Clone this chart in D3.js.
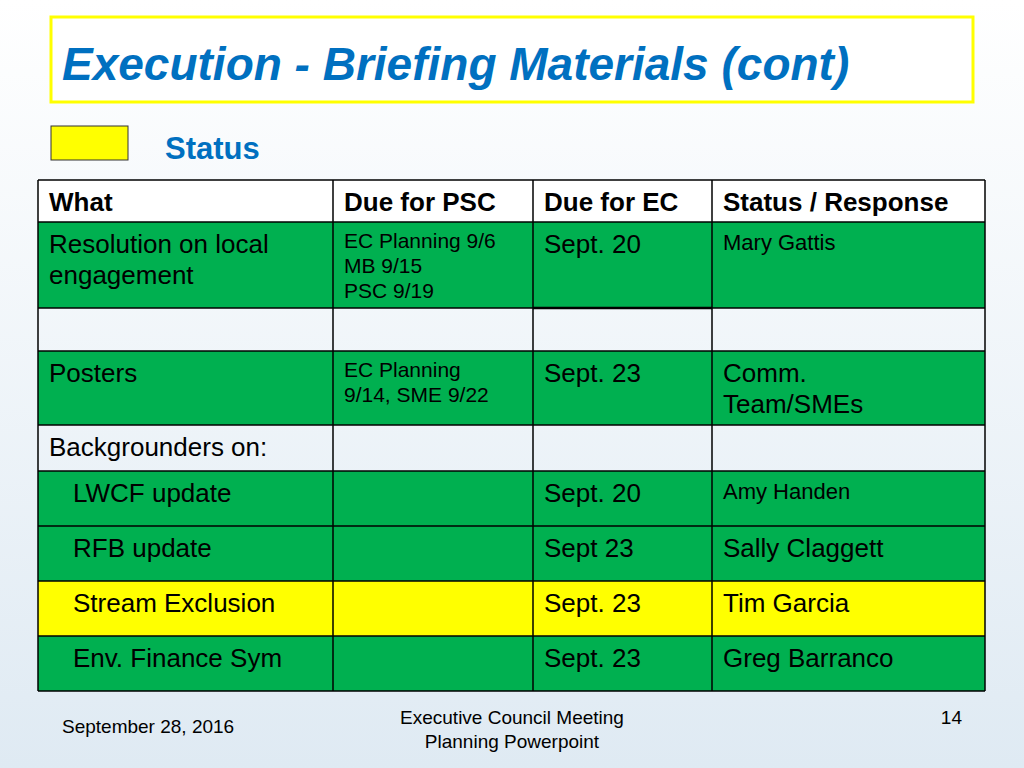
<!DOCTYPE html>
<html><head><meta charset="utf-8">
<script src="https://cdn.jsdelivr.net/npm/d3@7/dist/d3.min.js"></script>
<style>body{margin:0}</style></head>
<body><svg id="c" width="1024" height="768"></svg>
<script>
const headers = ["What","Due for PSC","Due for EC","Status / Response"];
const what = ["Resolution on local|engagement","","Posters","Backgrounders on:","LWCF update","RFB update","Stream Exclusion","Env. Finance Sym"];
const psc = ["EC Planning 9/6|MB 9/15|PSC 9/19","","EC Planning|9/14, SME 9/22","","","","",""];
const ec = ["Sept. 20","","Sept. 23","","Sept. 20","Sept 23","Sept. 23","Sept. 23"];
const status = ["Mary Gattis","","Comm.|Team/SMEs","","Amy Handen","Sally Claggett","Tim Garcia","Greg Barranco"];
const rowState = ["green","blank","green","blank","green","green","yellow","green"];
const indent = [0,0,0,0,1,1,1,1];
const smallStatus = [1,0,0,0,1,0,0,0];
const colEdges = [38,333,533,712,985];
const rowEdges = [180,222,308,351,425,471,526,581,636,691];

const svg = d3.select("#c");
const defs = svg.append("defs");
const g = defs.append("linearGradient").attr("id","bg").attr("x1",0).attr("y1",0).attr("x2",0).attr("y2",1);
g.append("stop").attr("offset","0").attr("stop-color","#ffffff");
g.append("stop").attr("offset","1").attr("stop-color","#dfeaf3");
svg.append("rect").attr("width",1024).attr("height",768).attr("fill","url(#bg)");

svg.append("rect").attr("x",51).attr("y",17).attr("width",922).attr("height",85).attr("fill","#fff").attr("stroke","#ffff00").attr("stroke-width",3);
svg.append("text").attr("x",62).attr("y",80).attr("font-family","Liberation Sans").attr("font-size",46).attr("font-weight","bold").attr("font-style","italic").attr("fill","#0070c0").text("Execution - Briefing Materials (cont)");
svg.append("rect").attr("x",51).attr("y",126).attr("width",77).attr("height",34).attr("fill","#ffff00").attr("stroke","#333").attr("stroke-width",1);
svg.append("text").attr("x",165).attr("y",159).attr("font-family","Liberation Sans").attr("font-size",31).attr("font-weight","bold").attr("fill","#0070c0").text("Status");

const fill = {green:"#00b050",yellow:"#ffff00",blank:"none"};
const F = "Liberation Sans";
// header
headers.forEach((h,i)=>{
  svg.append("rect").attr("x",colEdges[i]).attr("y",rowEdges[0]).attr("width",colEdges[i+1]-colEdges[i]).attr("height",rowEdges[1]-rowEdges[0]).attr("fill","#fff");
  svg.append("text").attr("x",colEdges[i]+11).attr("y",rowEdges[0]+31).attr("font-family",F).attr("font-size",26).attr("font-weight","bold").attr("fill","#000").text(h);
});
function multi(x,y,str,size,lh){
  const t=svg.append("text").attr("font-family",F).attr("font-size",size).attr("fill","#000");
  str.split("|").forEach((s,k)=>t.append("tspan").attr("x",x).attr("y",y+k*lh).text(s));
}
what.forEach((w,r)=>{
  const y0=rowEdges[r+1], y1=rowEdges[r+2];
  svg.append("rect").attr("x",colEdges[0]).attr("y",y0).attr("width",colEdges[4]-colEdges[0]).attr("height",y1-y0).attr("fill",fill[rowState[r]]);
  if(w) multi(colEdges[0]+11+indent[r]*24,y0+31,w,26,31);
  if(psc[r]) multi(colEdges[1]+11,y0+26,psc[r],21,25);
  if(ec[r]) multi(colEdges[2]+11,y0+31,ec[r],26,31);
  if(status[r]) multi(colEdges[3]+11,y0+(smallStatus[r]?28:31),status[r],smallStatus[r]?22:26,31);
});
// grid
colEdges.forEach(x=>svg.append("line").attr("x1",x).attr("x2",x).attr("y1",rowEdges[0]).attr("y2",rowEdges[rowEdges.length-1]).attr("stroke","#000").attr("stroke-width",1.5));
rowEdges.forEach(y=>svg.append("line").attr("x1",colEdges[0]).attr("x2",colEdges[4]).attr("y1",y).attr("y2",y).attr("stroke","#000").attr("stroke-width",1.5));
svg.append("line").attr("x1",533).attr("x2",712).attr("y1",308).attr("y2",308).attr("stroke","#000").attr("stroke-width",2.5);

svg.append("text").attr("x",62).attr("y",733).attr("font-family",F).attr("font-size",19).text("September 28, 2016");
const ft=svg.append("text").attr("font-family",F).attr("font-size",19).attr("text-anchor","middle");
ft.append("tspan").attr("x",512).attr("y",724).text("Executive Council Meeting");
ft.append("tspan").attr("x",512).attr("y",748).text("Planning Powerpoint");
svg.append("text").attr("x",962).attr("y",724).attr("text-anchor","end").attr("font-family",F).attr("font-size",19).text("14");
</script></body></html>
